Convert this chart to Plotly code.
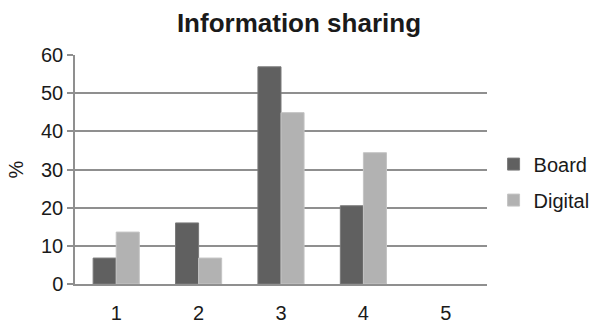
import plotly.graph_objects as go

# Survey categories and response shares (%)
categories = ["1", "2", "3", "4", "5"]
board = [6.8, 16.0, 56.9, 20.5, None]
digital = [13.6, 6.8, 44.9, 34.4, None]
y_ticks = [0, 10, 20, 30, 40, 50, 60]

FONT = "Liberation Sans, Arial, Helvetica, sans-serif"
GRID = "#8f8f8f"

fig = go.Figure()
fig.add_trace(go.Bar(
    x=categories, y=board, name="Board",
    marker=dict(color="#606060", line=dict(color="#7a7a7a", width=1)),
    legendgroup="board",
))
fig.add_trace(go.Bar(
    x=categories, y=digital, name="Digital",
    marker=dict(color="#b2b2b2", line=dict(color="#c4c4c4", width=1)),
    legendgroup="digital",
))

fig.update_layout(
    width=592, height=323,
    margin=dict(l=75, r=105, t=55, b=39, autoexpand=False),
    paper_bgcolor="white", plot_bgcolor="white",
    font=dict(family=FONT, size=20, color="#1a1a1a"),
    title=dict(text="<b>Information sharing</b>", x=0.505, xanchor="center",
               y=0.93, yanchor="middle",
               font=dict(family=FONT, size=26, color="#1a1a1a")),
    barmode="group", bargap=0.44, bargroupgap=0,
    showlegend=True,
    legend=dict(x=1.016, xanchor="left", y=0.445, yanchor="middle",
                font=dict(size=20), tracegroupgap=7,
                bgcolor="rgba(0,0,0,0)", itemclick=False),
)
fig.update_xaxes(
    type="category", categoryorder="array", categoryarray=categories,
    showline=True, linecolor=GRID, linewidth=1.5,
    showgrid=False, ticks="", tickfont=dict(size=20), ticklabelstandoff=10,
)
fig.update_yaxes(
    range=[0, 60], tickvals=y_ticks, showgrid=True, gridcolor=GRID, gridwidth=1.5,
    showline=True, linecolor=GRID, linewidth=1.5,
    ticks="outside", ticklen=6, tickcolor=GRID, tickwidth=1.5,
    tickfont=dict(size=20), zeroline=False,
    title=dict(text="%", font=dict(size=20), standoff=12),
)

fig.write_html("out.html")
